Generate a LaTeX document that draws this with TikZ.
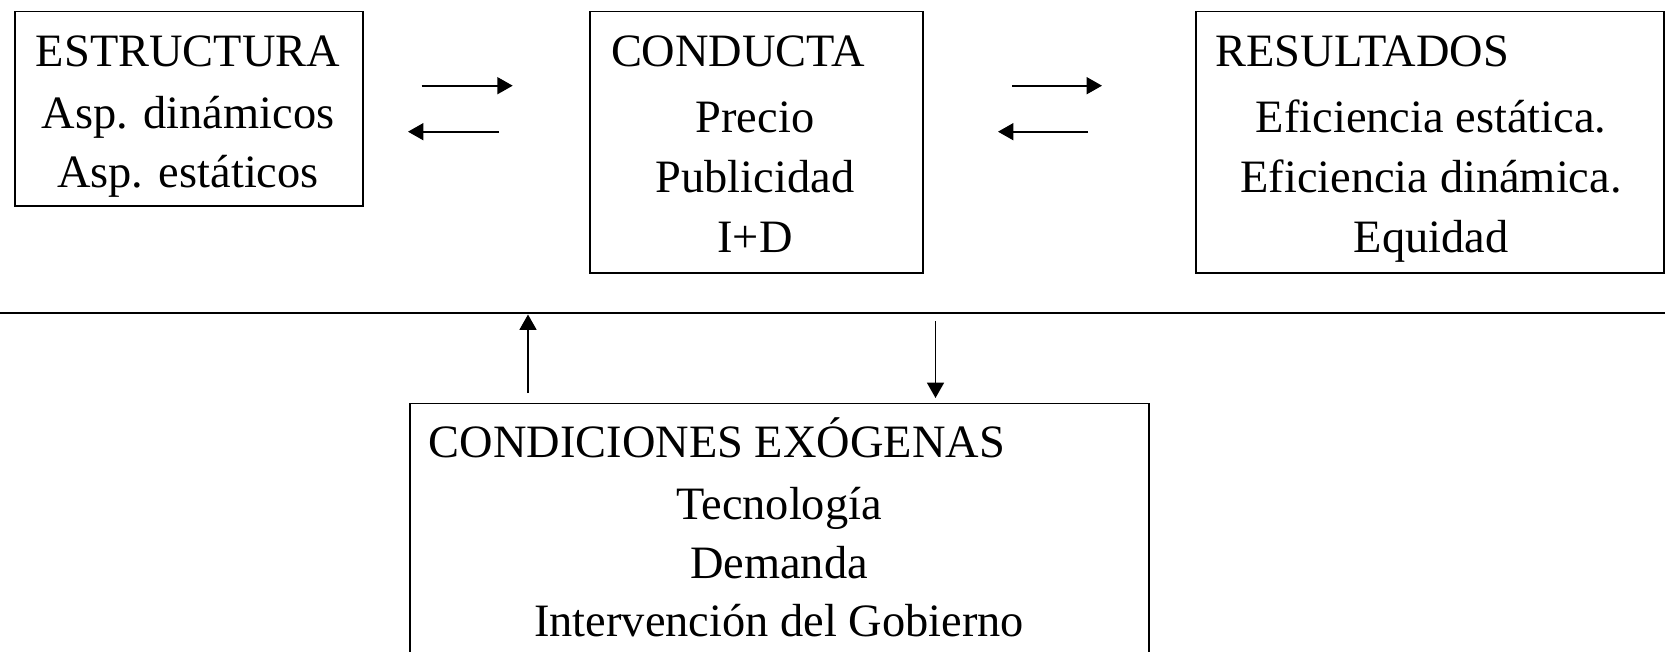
\documentclass[tikz,border=0pt]{standalone}
\usepackage{fontspec}
\setmainfont{Liberation Serif}
\usetikzlibrary{arrows.meta}

\begin{document}
\begin{tikzpicture}[x=0.5pt, y=-0.5pt]
    \tikzstyle{block box} = [draw=black, line width=0.9pt, inner sep=0pt, anchor=north west]
    \tikzstyle{block title} = [inner sep=0pt, anchor=base west, font=\fontsize{23.2pt}{30pt}\selectfont]
    \tikzstyle{block line} = [block title, anchor=base]
    \tikzstyle{flow arrow} = [draw=black, line width=0.85pt, -{Triangle[length=7.7pt, width=8.5pt]}]
    \tikzstyle{divider} = [draw=black, line width=0.9pt]
\useasboundingbox (0,0) rectangle (1665,652);
% boxes
\node[block box, minimum width=174.1pt, minimum height=97.2pt] (est) at (13.8,10.6) {};
\node[block box, minimum width=166.5pt, minimum height=130.7pt] (con) at (589,10.6) {};
\node[block box, minimum width=234pt, minimum height=130.7pt] (res) at (1195,10.6) {};
\node[block box, minimum width=369.5pt, minimum height=150pt] (exo) at (409,402.5) {};
% texts
\node[block line] (est0) at (188,67) {ESTRUCTURA};
\node[block line] (est1) at (188,129) {Asp. dinámicos};
\node[block line] (est2) at (188,188) {Asp. estáticos};
\node[block title] (con0) at (610.6,67) {CONDUCTA};
\node[block line] (con1) at (755,133) {Precio};
\node[block line] (con2) at (755,193) {Publicidad};
\node[block line] (con3) at (755,253) {I+D};
\node[block title] (res0) at (1215,67) {RESULTADOS};
\node[block line] (res1) at (1431,133) {Eficiencia estática.};
\node[block line] (res2) at (1431,193) {Eficiencia dinámica.};
\node[block line] (res3) at (1431,253) {Equidad};
\node[block title] (exo0) at (428.5,457) {CONDICIONES EXÓGENAS};
\node[block line] (exo1) at (779,519) {Tecnología};
\node[block line] (exo2) at (779,578) {Demanda};
\node[block line] (exo3) at (779,636) {Intervención del Gobierno};
% divider
\coordinate (div w) at (0,313);
\coordinate (div e) at (1665,313);
\draw[divider] (div w) -- (div e);
% arrows
\coordinate (ec a) at (421.7,85.7);
\coordinate (ec b) at (512.7,85.7);
\coordinate (ce a) at (499,131.7);
\coordinate (ce b) at (408,131.7);
\coordinate (cr a) at (1012,85.7);
\coordinate (cr b) at (1102,85.7);
\coordinate (rc a) at (1088,131.7);
\coordinate (rc b) at (998,131.7);
\coordinate (up a) at (528,393);
\coordinate (up b) at (528,314.5);
\coordinate (dn a) at (935.5,321);
\coordinate (dn b) at (935.5,398);
\draw[flow arrow] (ec a) to (ec b);
\draw[flow arrow] (ce a) to (ce b);
\draw[flow arrow] (cr a) to (cr b);
\draw[flow arrow] (rc a) to (rc b);
\draw[flow arrow] (up a) to (up b);
\draw[flow arrow] (dn a) to (dn b);
\end{tikzpicture}
\end{document}
